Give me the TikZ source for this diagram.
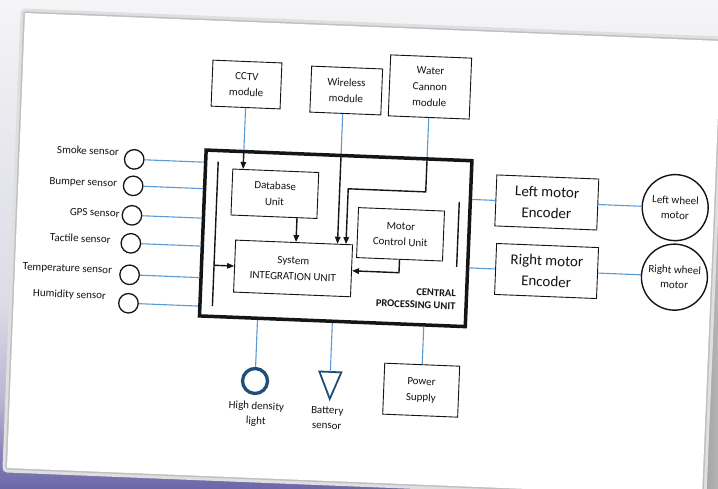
\documentclass[tikz,border=0pt]{standalone}
\usepackage{fontspec}
\setmainfont{Carlito}
\usetikzlibrary{arrows.meta,calc}
\definecolor{lineblue}{HTML}{5B9BD5}
\definecolor{darkblue}{HTML}{1F4E79}
\definecolor{ink}{HTML}{151515}
\definecolor{bgtop}{HTML}{F5F5F8}
\definecolor{bghi}{HTML}{EBEBF0}
\definecolor{bgmid}{HTML}{DCDCE6}
\definecolor{bglow}{HTML}{B9B6D2}
\definecolor{bgdeep}{HTML}{8580B8}
\definecolor{bgbot}{HTML}{6C67A8}
\pgfdeclareverticalshading{bgshade}{100bp}{color(0bp)=(bgbot); color(25bp)=(bgbot); color(28bp)=(bgdeep); color(34bp)=(bglow); color(44bp)=(bgmid); color(65bp)=(bghi); color(75bp)=(bgtop); color(100bp)=(bgtop)}
\begin{document}
\begin{tikzpicture}[x=1pt,y=-1pt,
  every node/.style={text=ink, font=\fontsize{11}{16}\selectfont},
  box/.style={draw=ink, line width=0.9pt, inner sep=0pt, align=center},
  sens/.style={draw=ink, circle, line width=1.3pt, minimum size=19.5pt, inner sep=0pt},
  wheel/.style={draw=ink, circle, line width=1.4pt, minimum size=66pt, inner sep=0pt, align=center, font=\fontsize{11}{15}\selectfont},
  lbl/.style={inner sep=0pt, anchor=east},
  enc/.style={box, minimum width=102pt, minimum height=51pt, font=\fontsize{15}{21}\selectfont},
  bl/.style={draw=lineblue, line width=1.1pt},
  bk/.style={draw=ink, line width=1.4pt},
  arr/.style={bk, -{Triangle[length=7pt,width=5.5pt]}},
]
\useasboundingbox (0,0) rectangle (718,488);
% background and paper
\shade[shading=bgshade] (0,0) rectangle (718,488);
\coordinate (p1) at (25,13);
\coordinate (p2) at (721,41);
\coordinate (p3) at (702,496);
\coordinate (p4) at (7,468);
\shade[left color=gray!75, right color=gray!35] (p2) -- (740,41) -- (740,496) -- (p3) -- cycle;
\draw[gray!25, line width=9pt, line join=round] (p1) -- (p2) -- (p3) -- (p4) -- cycle;
\draw[gray!50, line width=3pt, line join=round] (p1) -- (p2) -- (p3) -- (p4) -- cycle;
\fill[white] (p1) -- (p2) -- (p3) -- (p4) -- cycle;

\begin{scope}[transform canvas={rotate around={-2.3:(360,244)}}]
% central unit
\node[box, minimum width=266pt, minimum height=166pt, line width=3.5pt] (cpu) at (335.5,239.3) {};
\node[inner sep=0pt, anchor=east, align=right, font=\bfseries\fontsize{10.5}{12.7}\selectfont] (cpulbl) at (458,296) {CENTRAL\\PROCESSING UNIT};

% top modules
\node[box, minimum width=69pt, minimum height=46pt] (cctv) at (240.2,89.2) {CCTV\\module};
\node[box, minimum width=71pt, minimum height=46pt] (wifi) at (340.1,91.2) {Wireless\\module};
\node[box, minimum width=81pt, minimum height=61pt] (water) at (423.6,84.3) {Water\\Cannon\\module};

% inner units
\node[box, minimum width=86pt, minimum height=46pt] (db) at (272.9,197.2) {Database\\Unit};
\node[box, minimum width=117pt, minimum height=52pt] (sys) at (294.1,271.1) {System\\INTEGRATION UNIT};
\node[box, minimum width=86pt, minimum height=50pt] (mcu) at (400.1,232.7) {Motor\\Control Unit};

% bars inside CPU
\coordinate (lbt) at (215,167.5);
\coordinate (lbb) at (215,312);
\coordinate (rbt) at (457.5,198);
\coordinate (rbb) at (457.5,263);
\draw[bk] (lbt) -- (lbb);
\draw[bk] (rbt) -- (rbb);
\draw[arr] (lbt |- sys.west) -- (sys.west);

% sensors
\node[sens] (s1) at (131,168.5) {};
\node[sens] (s2) at (131,195) {};
\node[sens] (s3) at (131,224.5) {};
\node[sens] (s4) at (131,252.5) {};
\node[sens] (s5) at (131,284) {};
\node[sens] (s6) at (131,312.5) {};
\node[lbl] (l1) at (115.5,161.5) {Smoke sensor};
\node[lbl] (l2) at (115,194) {Bumper sensor};
\node[lbl] (l3) at (118.7,223.3) {GPS sensor};
\node[lbl] (l4) at (110.8,249.5) {Tactile sensor};
\node[lbl] (l5) at (113.4,280.7) {Temperature sensor};
\node[lbl] (l6) at (108.4,306.5) {Humidity sensor};
\foreach \s in {s1,s2,s3,s4,s5,s6}
  \draw[bl] (\s.east) -- (\s.east -| cpu.west);

% right side
\node[enc] (lenc) at (545,195) {Left motor\\Encoder};
\node[enc] (renc) at (547.5,263.5) {Right motor\\Encoder};
\node[wheel] (lw) at (673.5,195) {Left wheel\\motor};
\node[wheel] (rw) at (675.5,264.5) {Right wheel\\motor};
\draw[bl] (lenc.west -| cpu.east) -- (lenc.west);
\draw[bl] (renc.west -| cpu.east) -- (renc.west);
\draw[bl] (lenc.east) -- (lenc.east -| lw.west);
\draw[bl] (renc.east) -- (renc.east -| rw.west);

% bottom
\node[circle, draw=darkblue, line width=3.3pt, minimum size=25pt, inner sep=0pt] (hdl) at (260.6,385.1) {};
\node[align=center, font=\fontsize{11}{15}\selectfont] (hdllbl) at (263,418) {High density\\light};
\coordinate (bt) at (335.5,373);
\draw[darkblue, line width=1.8pt, line join=miter] (324.5,373) -- (346.5,373) -- (336,400) -- cycle;
\node[align=center, font=\fontsize{11}{15}\selectfont] (batlbl) at (334,419) {Battery\\sensor};
\node[box, minimum width=75pt, minimum height=51pt] (pwr) at (427,387.6) {Power\\Supply};
\draw[bl] (hdl.north |- cpu.south) -- (hdl.north);
\draw[bl] (bt |- cpu.south) -- (bt);
\draw[bl] (pwr.north |- cpu.south) -- (pwr.north);

% top connectors
\draw[bl] (cctv.south) -- (cctv.south |- cpu.north);
\draw[arr] (cctv.south |- cpu.north) -- (cctv.south |- db.north);
\coordinate (wtop) at ($(wifi.south)+(-2.6,0)$);
\draw[bl] (wtop) -- (wtop |- cpu.north);
\draw[arr] (wtop |- cpu.north) -- (wtop |- sys.north);
\coordinate (wbend) at (346,189.3);
\draw[bl] (water.south) -- (water.south |- cpu.north);
\draw[arr] (water.south |- cpu.north) |- (wbend) -- (wbend |- sys.north);

% inner connectors
\coordinate (dbx) at ($(db.south)+(23.1,0)$);
\draw[arr] (dbx) -- (dbx |- sys.north);
\draw[arr] (mcu.south) |- (sys.east);
\end{scope}
\end{tikzpicture}
\end{document}
